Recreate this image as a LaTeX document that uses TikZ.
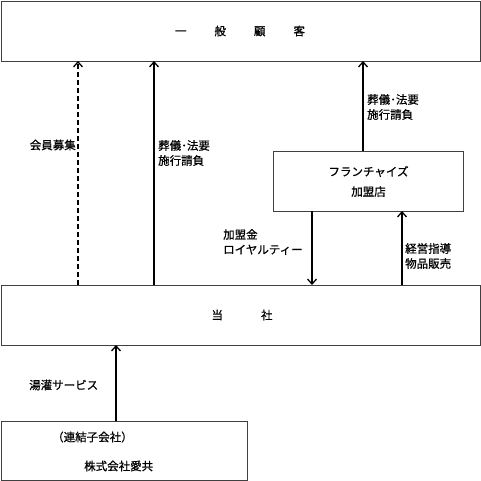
\documentclass[tikz,border=0pt]{standalone}
\usepackage{fontspec}
\setmainfont{Noto Sans CJK JP}[FakeBold=0.6]
\usetikzlibrary{arrows.meta}
\begin{document}
\begin{tikzpicture}[x=1pt,y=-1pt,
  box/.style={draw=black!75,line width=1pt,fill=white},
  flow/.style={line width=1.5pt,-{Straight Barb[length=5pt,width=9pt,line width=1.3pt]}},
  lbl/.style={font=\fontsize{11.5}{15}\selectfont,align=left,inner sep=0pt}]
\useasboundingbox (0,0) rectangle (481,481);
\node[box,minimum width=479pt,minimum height=60pt,anchor=north west,inner sep=0pt] (cust) at (1,1) {};
\node[font=\fontsize{11.5}{13}\selectfont] at (240,31) {一\hspace{28pt}般\hspace{28pt}顧\hspace{28pt}客};
\node[box,minimum width=479pt,minimum height=60pt,anchor=north west,inner sep=0pt] (co) at (1,285) {};
\node[font=\fontsize{11.5}{13}\selectfont] at (242,315) {当\hspace{38pt}社};
\node[box,minimum width=190pt,minimum height=60pt,anchor=north west,inner sep=0pt,align=center,font=\fontsize{11.5}{20}\selectfont] (fc) at (273,151) {フランチャイズ\\加盟店};
\node[box,minimum width=246pt,minimum height=59pt,anchor=north west,inner sep=0pt] (sub) at (1,421) {};
\node[lbl,anchor=west] (s1) at (52,437) {（連結子会社）};
\node[lbl,anchor=west] (s2) at (84,466) {株式会社愛共};
\draw[flow,dashed,dash pattern=on 5pt off 3pt] (78,285) -- (78,61);
\draw[flow] (154,285) -- (154,61);
\draw[flow] (fc.north -| 363,0) -- (363,61);
\draw[flow] (312,211) -- (312,285);
\draw[flow] (402,285) -- (402,211);
\draw[flow] (116,421) -- (116,345);
\node[lbl,anchor=east] (l1) at (76,145) {会員募集};
\node[lbl,anchor=west] (l2) at (158,153) {葬儀･法要\\施行請負};
\node[lbl,anchor=west] (l3) at (367,107) {葬儀･法要\\施行請負};
\node[lbl,anchor=west] (l4) at (223,242) {加盟金\\ロイヤルティー};
\node[lbl,anchor=west] (l5) at (405,256) {経営指導\\物品販売};
\node[lbl,anchor=west] (l6) at (29,385) {湯灌サービス};
\end{tikzpicture}
\end{document}
